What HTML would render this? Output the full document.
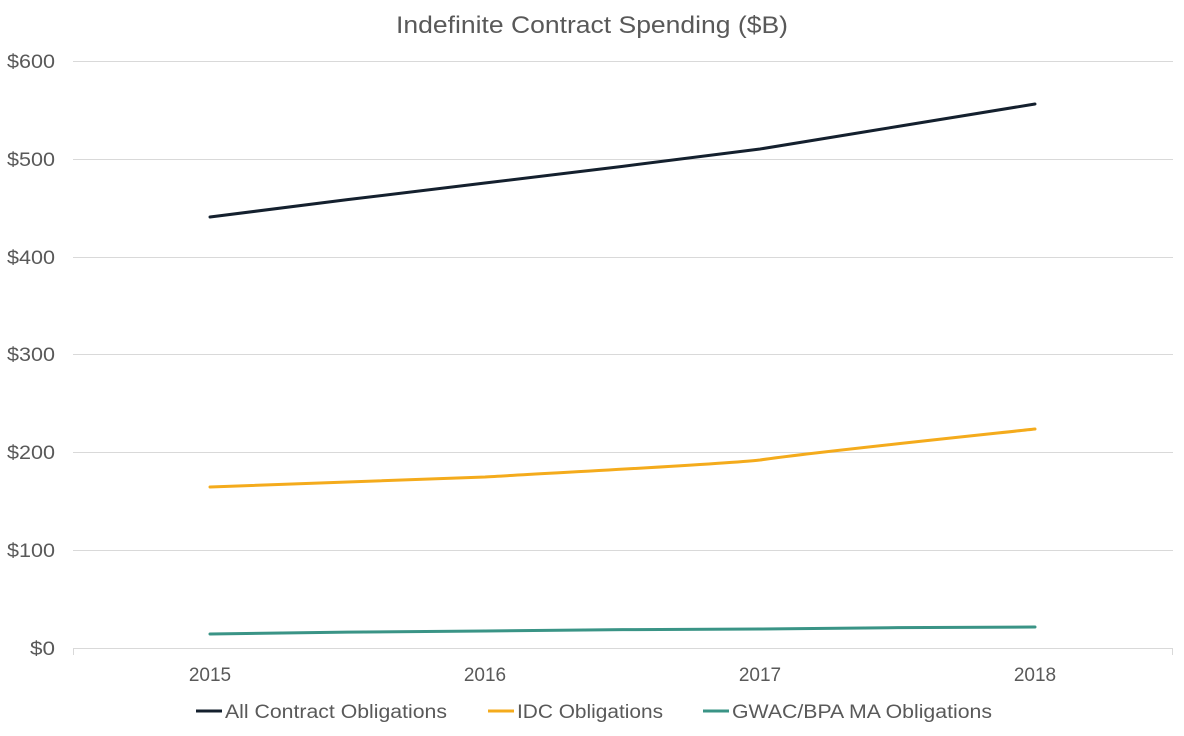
<!DOCTYPE html>
<html><head><meta charset="utf-8"><style>
html,body{margin:0;padding:0;background:#fff;}
svg{display:block;font-family:"Liberation Sans",sans-serif;}
</style></head><body>
<svg width="1184" height="736" viewBox="0 0 1184 736">
<rect width="1184" height="736" fill="#fff"/>
<text x="396" y="33" font-size="24" fill="#595959" textLength="392" lengthAdjust="spacingAndGlyphs">Indefinite Contract Spending ($B)</text>
<g stroke="#d9d9d9" stroke-width="1">
<line x1="73" x2="1173" y1="61.5" y2="61.5"/>
<line x1="73" x2="1173" y1="159.5" y2="159.5"/>
<line x1="73" x2="1173" y1="257.5" y2="257.5"/>
<line x1="73" x2="1173" y1="354.5" y2="354.5"/>
<line x1="73" x2="1173" y1="452.5" y2="452.5"/>
<line x1="73" x2="1173" y1="550.5" y2="550.5"/>
<line x1="73" x2="1173" y1="648.5" y2="648.5"/>
<line x1="73.5" x2="73.5" y1="648" y2="655"/>
<line x1="1172.5" x2="1172.5" y1="648" y2="655"/>
</g>
<g font-size="19" fill="#595959" text-anchor="end">
<text x="55" y="68" textLength="48" lengthAdjust="spacingAndGlyphs">$600</text>
<text x="55" y="166" textLength="48" lengthAdjust="spacingAndGlyphs">$500</text>
<text x="55" y="264" textLength="48" lengthAdjust="spacingAndGlyphs">$400</text>
<text x="55" y="361" textLength="48" lengthAdjust="spacingAndGlyphs">$300</text>
<text x="55" y="459" textLength="48" lengthAdjust="spacingAndGlyphs">$200</text>
<text x="55" y="557" textLength="48" lengthAdjust="spacingAndGlyphs">$100</text>
<text x="55" y="655" textLength="25" lengthAdjust="spacingAndGlyphs">$0</text>
</g>
<g font-size="19" fill="#595959" text-anchor="middle">
<text x="210" y="681">2015</text>
<text x="485" y="681">2016</text>
<text x="760" y="681">2017</text>
<text x="1035" y="681">2018</text>
</g>
<g fill="none" stroke-width="3" stroke-linecap="round">
<path stroke="#14202e" d="M210,217 C256,211 439,188 485,183 C531,178 714,155 760,149 C806,142 989,111 1035,104"/>
<path stroke="#f4ab1c" d="M210,487 C256,485 439,479 485,477 C531,474 714,465 760,460 C806,453 989,434 1035,429"/>
<path stroke="#3a9486" d="M210,634 C256,633 439,631 485,631 C531,630 714,629 760,629 C806,628 989,627 1035,627"/>
</g>
<g font-size="19" fill="#595959">
<line x1="196" x2="222" y1="711" y2="711" stroke="#14202e" stroke-width="3"/>
<text x="225" y="718" textLength="222" lengthAdjust="spacingAndGlyphs">All Contract Obligations</text>
<line x1="488" x2="514" y1="711" y2="711" stroke="#f4ab1c" stroke-width="3"/>
<text x="517" y="718" textLength="146" lengthAdjust="spacingAndGlyphs">IDC Obligations</text>
<line x1="703" x2="729" y1="711" y2="711" stroke="#3a9486" stroke-width="3"/>
<text x="732" y="718" textLength="260" lengthAdjust="spacingAndGlyphs">GWAC/BPA MA Obligations</text>
</g>
</svg>
</body></html>
